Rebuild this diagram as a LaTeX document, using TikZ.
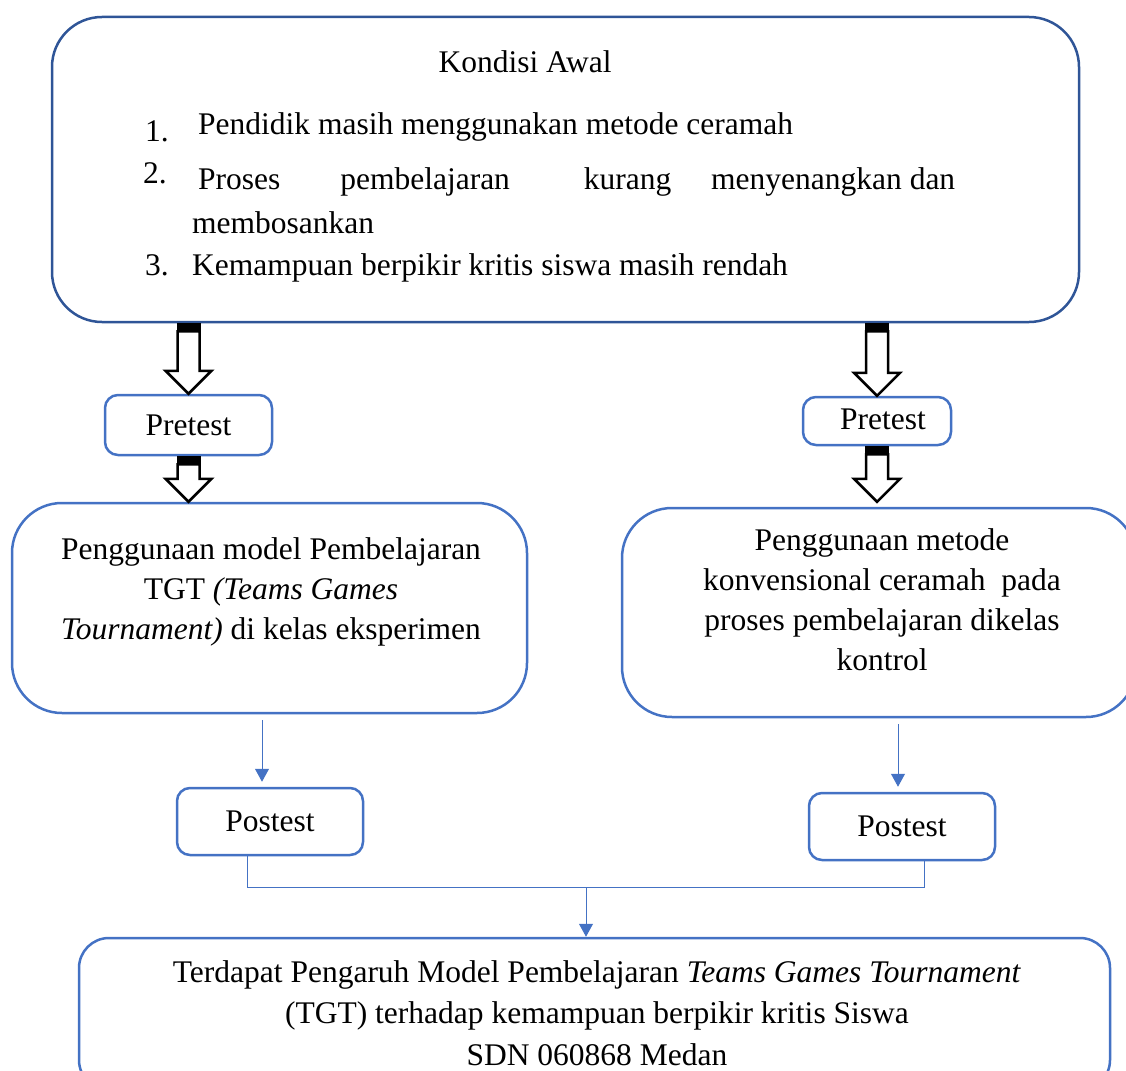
\documentclass[tikz,border=0pt]{standalone}
\usepackage{fontspec}
\setmainfont{Liberation Serif}
\usepackage{tikz}
\usetikzlibrary{calc,arrows.meta,positioning}
\definecolor{framedark}{HTML}{2F5597}
\definecolor{frameblue}{HTML}{4472C4}
\tikzset{
  bigbox/.style={draw=frameblue,line width=2.5pt,rounded corners=50pt,inner sep=0pt},
  smallbox/.style={draw=frameblue,line width=2.5pt,rounded corners=13pt,inner sep=0pt},
  txt/.style={align=center,font=\fontsize{31.5}{40}\selectfont},
  flow/.style={draw=frameblue,line width=1pt,-{Triangle[width=14pt,length=13pt]}},
  link/.style={draw=frameblue,line width=1pt},
  every node/.style={font=\fontsize{31.5}{40}\selectfont}
}
% hollow block arrow, #1 = top point, #2 = tip
\newcommand{\hollowarrow}[2]{%
  \fill ($(#1)+(-12,0)$) rectangle ($(#1)+(12,8)$);
  \draw[line width=2.5pt,fill=white,line join=miter]
    ($(#1)+(-11,8)$) -- ($(#2)+(-11,-23)$) -- ($(#2)+(-23,-23)$) -- (#2)
    -- ($(#2)+(23,-23)$) -- ($(#2)+(11,-23)$) -- ($(#1)+(11,8)$) -- cycle;
}

\begin{document}
\begin{tikzpicture}[x=1pt,y=-1pt]
  \useasboundingbox (0,0) rectangle (1126,1070);
  \clip (0,0) rectangle (1126,1070);

  % kondisi awal
  \node[bigbox,draw=framedark,minimum width=1027pt,minimum height=305pt] (awal) at (565.5,169.5) {};
  \node[anchor=base] (judul) at (525,73) {Kondisi Awal};
  \node[anchor=base west,inner sep=0pt] (n1) at (145,141) {1.};
  \node[anchor=base west,inner sep=0pt] (p1) at (198,135) {Pendidik masih menggunakan metode ceramah};
  \node[anchor=base west,inner sep=0pt] (n2) at (143,183) {2.};
  \node[anchor=base west,inner sep=0pt] (p2) at (198,189)
    {\hbox to 757pt{Proses\hspace{58pt plus 1fil minus 30pt}pembelajaran\hspace{72pt plus 1fil minus 30pt}kurang\hspace{38pt plus 1fil minus 20pt}menyenangkan dan}};
  \node[anchor=base west,inner sep=0pt] (p2b) at (192,233) {membosankan};
  \node[anchor=base west,inner sep=0pt] (n3) at (145,275) {3.};
  \node[anchor=base west,inner sep=0pt] (p3) at (192,275) {Kemampuan berpikir kritis siswa masih rendah};

  % pretest
  \node[smallbox,minimum width=167pt,minimum height=60pt] (pre1) at (188.5,425) {\raisebox{-5pt}{Pretest}};
  \node[smallbox,minimum width=148pt,minimum height=48pt] (pre2) at (877,421) {\hspace{12pt}\raisebox{3pt}{Pretest}};

  % perlakuan
  \node[bigbox,minimum width=515pt,minimum height=210pt] (tgt) at (269.5,608) {};
  \node[txt] (tgttxt) at (271,592)
    {Penggunaan model Pembelajaran\\TGT \textit{(Teams Games}\\\textit{Tournament)} di kelas eksperimen};
  \node[bigbox,minimum width=514pt,minimum height=209pt] (konv) at (879,612.5) {};
  \node[txt] (konvtxt) at (882,600)
    {Penggunaan metode\\konvensional ceramah\ \ pada\\proses pembelajaran dikelas\\kontrol};

  % postest
  \node[smallbox,minimum width=186pt,minimum height=67pt] (post1) at (270,821.5) {Postest\hspace{10pt}};
  \node[smallbox,minimum width=186pt,minimum height=67pt] (post2) at (902,826.5) {Postest\hspace{10pt}};

  % hasil
  \node[bigbox,rounded corners=30pt,minimum width=1031pt,minimum height=152pt] (hasil) at (594.5,1014) {};
  \node[txt,font=\fontsize{31.5}{41.5}\selectfont] (hasiltxt) at (597,1013)
    {Terdapat Pengaruh Model Pembelajaran \textit{Teams Games Tournament}\\(TGT) terhadap kemampuan berpikir kritis Siswa\\SDN 060868 Medan};

  % panah blok
  \hollowarrow{pre1.north |- awal.south}{pre1.north}
  \hollowarrow{pre2.north |- awal.south}{pre2.north}
  \hollowarrow{pre1.south}{pre1.south |- tgt.north}
  \hollowarrow{pre2.south}{pre2.south |- tgt.north}

  % panah tipis
  \draw[flow] ([xshift=-8pt,yshift=-6pt]post1.north |- tgt.south) -- ([xshift=-8pt,yshift=5pt]post1.north);
  \draw[flow] ([xshift=-4pt,yshift=-6pt]post2.north |- konv.south) -- ([xshift=-4pt,yshift=5pt]post2.north);
  \coordinate (gabung) at (586,887);
  \draw[link] ([xshift=-23pt]post1.south) |- (gabung) -| ([xshift=22pt]post2.south);
  \draw[flow] (gabung) -- (gabung |- hasil.north);
\end{tikzpicture}
\end{document}
